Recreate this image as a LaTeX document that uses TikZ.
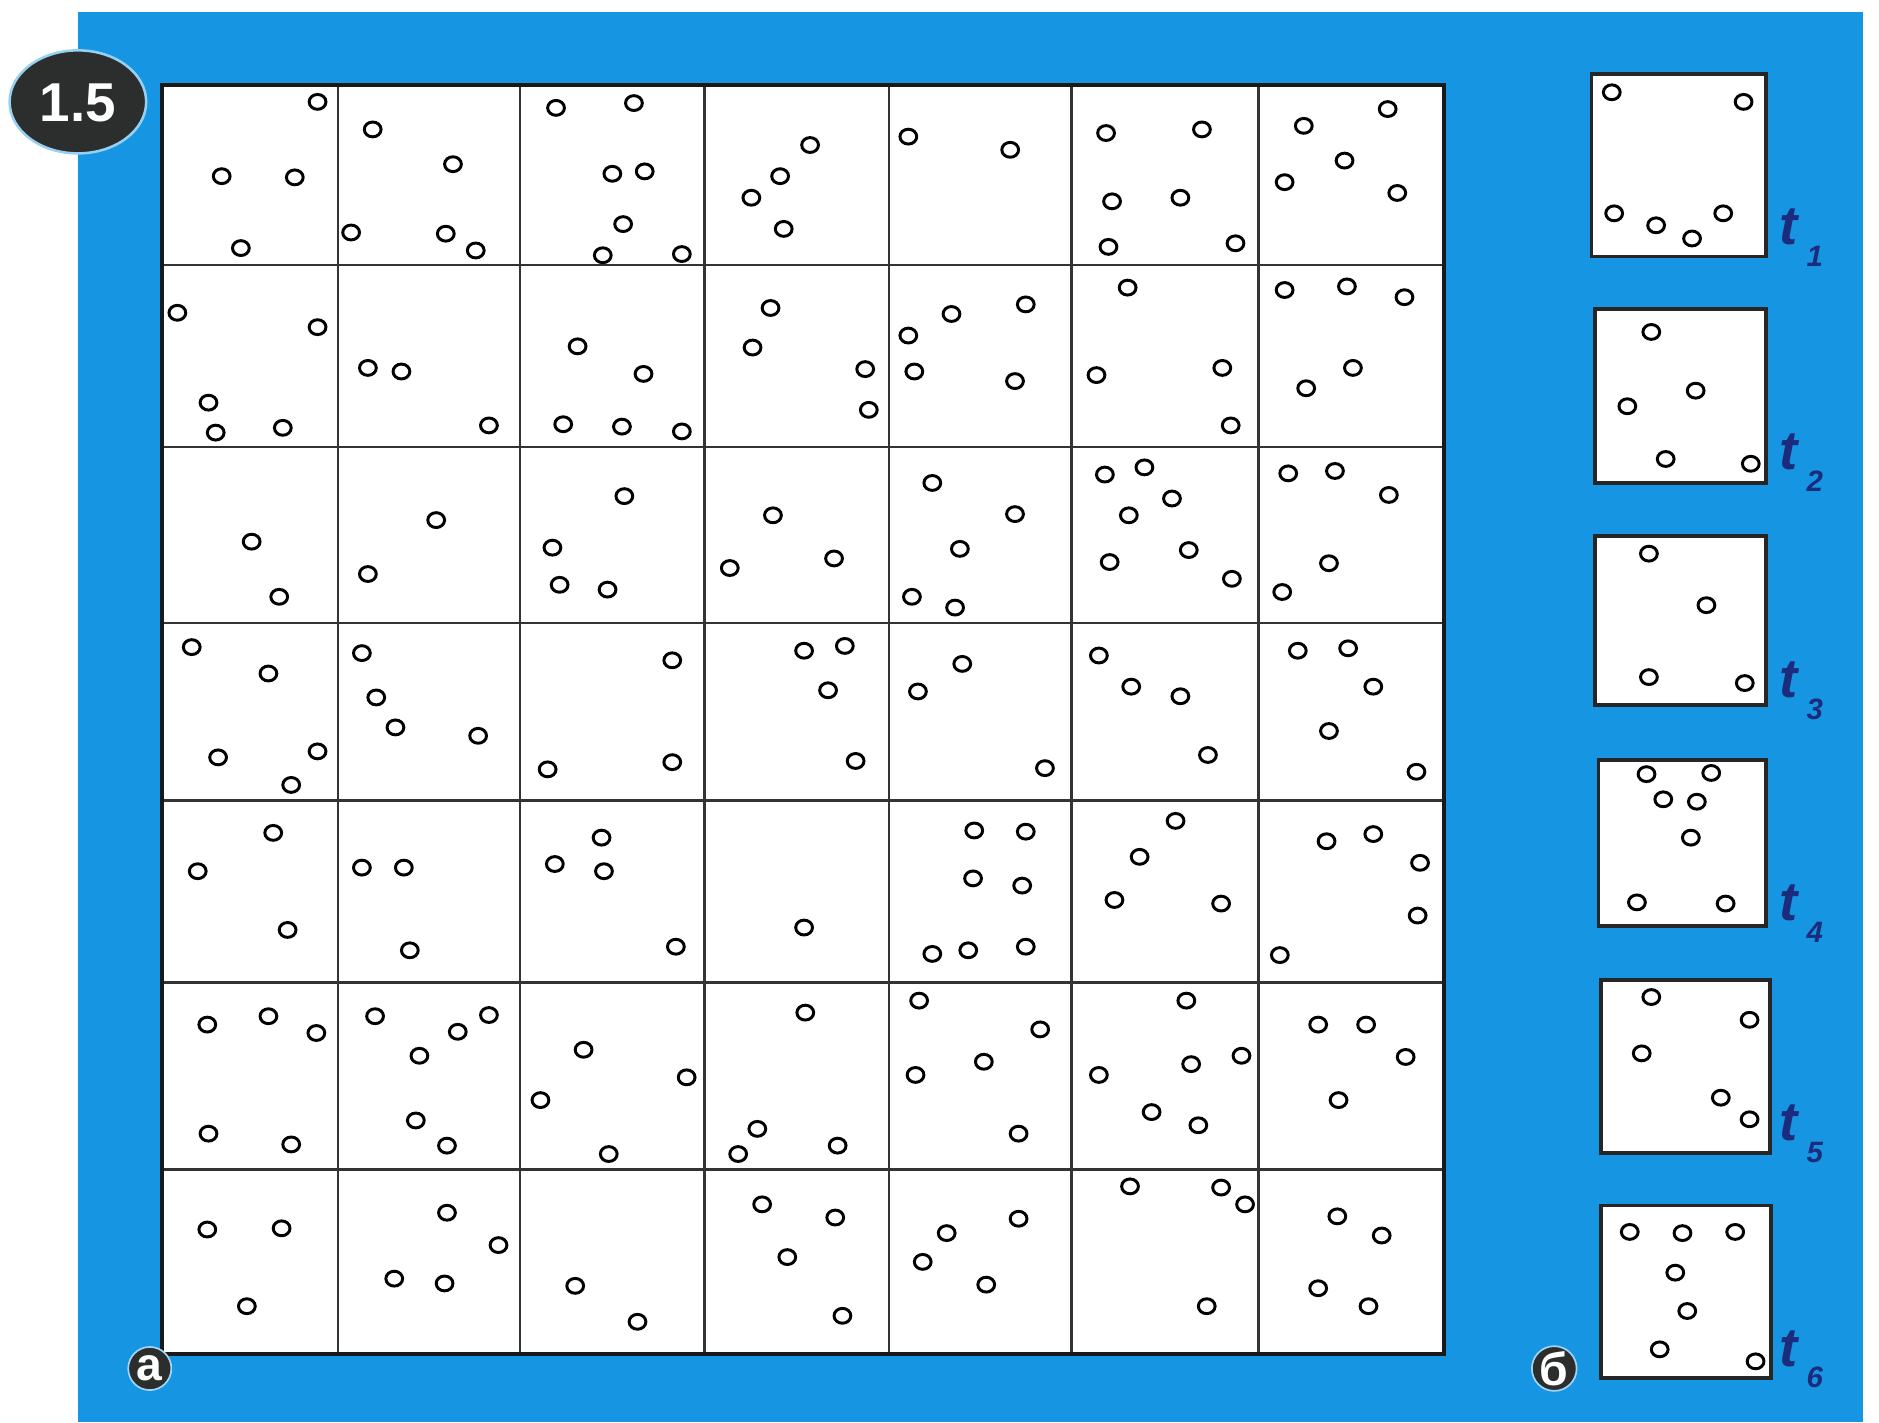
\documentclass[tikz,border=0pt]{standalone}
\usepackage{fontspec}
\newfontfamily\badgefont{Liberation Sans}
\usetikzlibrary{positioning}
\definecolor{plate}{RGB}{22,150,226}
\definecolor{ink}{RGB}{28,44,125}
\definecolor{badge}{RGB}{44,46,46}

\begin{document}
\begin{tikzpicture}[x=0.1mm, y=-0.1mm,
    bead/.style={line width=0.7pt},
    cellline/.style={black!80, line width=0.6pt},
    framebox/.style={draw=black!85, line width=0.9pt, fill=white},
    tlabel/.style={ink, anchor=base west, inner sep=0pt,
      font=\badgefont\bfseries\itshape\fontsize{13}{13}\selectfont},
    badgedisk/.style={circle, fill=badge, draw=white!60!plate, text=white,
      minimum size=3.6mm, inner sep=0pt,
      font=\badgefont\bfseries\fontsize{11}{11}\selectfont}]
    \useasboundingbox (0,0) rectangle (1568,1187);
    \fill[white] (0,0) rectangle (1568,1187);
    \fill[plate] (65,10) rectangle (1555,1187);

    % Grid a
    \fill[white] (135,71) rectangle (1205,1130);
    \foreach \gx in {282,434,588,742,894,1050}
        \draw[cellline] (\gx,71) -- (\gx,1130);
    \foreach \gy in {221,373,520,668,820,976}
        \draw[cellline] (135,\gy) -- (1205,\gy);
    \draw[black!90, line width=1pt] (135,71) rectangle (1205,1130);

    % Row 1
    \foreach \x/\y in {265/85, 185/147, 246/148, 201/207,
        311/108, 378/137, 293/194, 372/195, 397/209,
        464/90, 529/86, 511/145, 538/143, 520/187, 503/213, 569/212,
        676/121, 651/147, 627/165, 654/191,
        758/114, 843/125,
        923/111, 1003/108, 928/168, 985/165, 925/206, 1031/203,
        1088/105, 1158/91, 1122/134, 1072/152, 1166/161}
        \draw[bead] (\x,\y) circle[x radius=0.7mm, y radius=0.62mm];

    % Row 2
    \foreach \x/\y in {148/261, 265/273, 174/336, 180/361, 236/357,
        307/307, 335/310, 408/355,
        482/289, 537/312, 470/354, 519/356, 569/360,
        643/257, 628/290, 722/308, 725/342,
        794/262, 856/254, 758/280, 763/310, 847/318,
        941/240, 915/313, 1020/307, 1027/355,
        1072/242, 1124/239, 1172/248, 1129/307, 1090/324}
        \draw[bead] (\x,\y) circle[x radius=0.7mm, y radius=0.62mm];

    % Row 3
    \foreach \x/\y in {210/452, 233/498,
        364/434, 307/479,
        521/414, 461/457, 467/488, 507/492,
        645/430, 696/466, 609/474,
        778/403, 847/429, 801/458, 761/498, 797/507,
        922/396, 955/390, 978/416, 942/430, 992/459, 926/469, 1028/483,
        1075/395, 1114/393, 1159/413, 1109/470, 1070/494}
        \draw[bead] (\x,\y) circle[x radius=0.7mm, y radius=0.62mm];

    % Row 4
    \foreach \x/\y in {160/540, 224/562, 182/632, 265/627, 243/655,
        302/545, 314/582, 330/607, 399/614,
        561/551, 457/642, 561/636,
        671/543, 705/539, 691/576, 714/635,
        803/554, 766/577, 872/641,
        917/547, 944/573, 985/581, 1008/630,
        1083/543, 1125/541, 1146/573, 1109/610, 1182/644}
        \draw[bead] (\x,\y) circle[x radius=0.7mm, y radius=0.62mm];

    % Row 5
    \foreach \x/\y in {228/695, 165/727, 240/776,
        302/724, 337/724, 342/793,
        502/699, 463/721, 504/727, 564/790,
        671/774,
        813/693, 856/694, 812/733, 853/739, 778/796, 808/793, 856/790,
        981/685, 951/715, 930/751, 1019/754,
        1107/702, 1146/696, 1185/720, 1183/764, 1068/797}
        \draw[bead] (\x,\y) circle[x radius=0.7mm, y radius=0.62mm];

    % Row 6
    \foreach \x/\y in {173/855, 224/848, 264/862, 174/946, 243/955,
        313/848, 382/861, 408/847, 350/881, 347/935, 373/956,
        487/876, 573/899, 451/918, 508/963,
        672/845, 632/942, 616/963, 699/956,
        767/835, 868/859, 821/886, 764/897, 850/946,
        990/835, 994/888, 1036/881, 917/897, 961/928, 1000/939,
        1100/855, 1140/855, 1173/882, 1117/918}
        \draw[bead] (\x,\y) circle[x radius=0.7mm, y radius=0.62mm];

    % Row 7
    \foreach \x/\y in {173/1026, 235/1025, 206/1090,
        373/1012, 416/1039, 329/1067, 371/1071,
        480/1073, 532/1103,
        636/1005, 697/1016, 657/1049, 703/1098,
        790/1029, 850/1017, 770/1053, 823/1072,
        943/990, 1019/991, 1039/1005, 1007/1090,
        1116/1015, 1153/1031, 1100/1075, 1142/1090}
        \draw[bead] (\x,\y) circle[x radius=0.7mm, y radius=0.62mm];

    % Frames b: t_1 ... t_6
    \draw[framebox] (1328,62) rectangle (1474,214);
    \draw[framebox] (1331,258) rectangle (1474,403);
    \draw[framebox] (1331,447) rectangle (1474,588);
    \draw[framebox] (1334,634) rectangle (1474,773);
    \draw[framebox] (1336,818) rectangle (1477,962);
    \draw[framebox] (1336,1006) rectangle (1478,1150);
    \foreach \x/\y in {1345/77, 1455/85, 1347/178, 1382/188, 1412/199, 1438/178,
        1378/277, 1358/339, 1415/326, 1390/383, 1461/387,
        1376/462, 1424/505, 1376/565, 1456/570,
        1374/646, 1428/645, 1388/667, 1416/669, 1411/699, 1366/753, 1440/754,
        1378/832, 1460/851, 1370/879, 1436/916, 1460/934,
        1360/1028, 1404/1029, 1448/1028, 1398/1062, 1408/1094, 1385/1126, 1465/1136}
        \draw[bead] (\x,\y) circle[x radius=0.7mm, y radius=0.62mm];

    \foreach \i/\y in {1/204, 2/392, 3/582, 4/768, 5/952, 6/1140}
        \node[tlabel] (t\i) at (1484,\y)
            {t\,{\fontsize{7}{7}\selectfont\raisebox{-1.4ex}{\i}}};

    % Badges
    \fill[badge] (65,85) ellipse[x radius=5.7mm, y radius=4.3mm];
    \draw[white!55!plate, line width=0.6pt] (65,85) ellipse[x radius=5.7mm, y radius=4.3mm];
    \node[text=white, font=\badgefont\bfseries\fontsize{13}{13}\selectfont] (num) at (65,86) {1.5};
    \node[badgedisk] (parta) at (125,1142) {a};
    \node[badgedisk] (partb) at (1297,1142) {б};
\end{tikzpicture}
\end{document}
